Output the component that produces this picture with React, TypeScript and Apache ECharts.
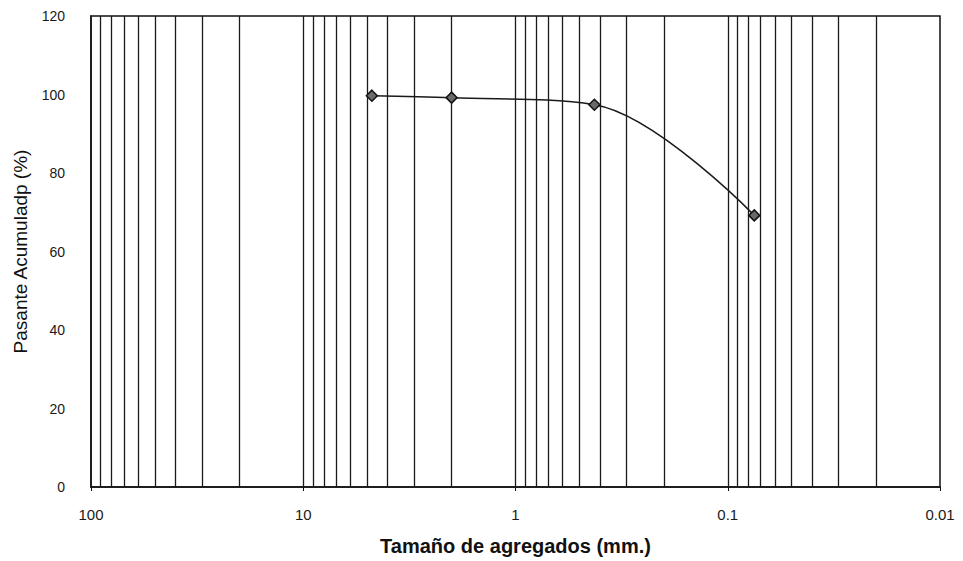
import React, { useEffect, useRef } from "react";
import * as echarts from "echarts";

// Sieve sizes (mm) and cumulative passing (%)
const sizes = [4.75, 2.0, 0.425, 0.075];
const passing = [99.7, 99.2, 97.4, 69.2];

// Y tick settings
const yMin = 0;
const yMax = 120;
const yStep = 20;

// X axis extent (log)
const xMin = 0.01;
const xMax = 100;

// Vertical log grid lines (minor + inner majors)
const gridValues = [
  90, 80, 70, 60, 50, 40, 30, 20,
  10,
  9, 8, 7, 6, 5, 4, 3, 2,
  1,
  0.9, 0.8, 0.7, 0.6, 0.5, 0.4, 0.3, 0.2,
  0.1,
  0.09, 0.08, 0.07, 0.06, 0.05, 0.04, 0.03, 0.02,
];

const FONT = "'Liberation Sans', Arial, sans-serif";

export default function App() {
  const ref = useRef<HTMLDivElement>(null);

  useEffect(() => {
    if (!ref.current) return;
    const chart = echarts.init(ref.current, null, { renderer: "svg" });
    const data = sizes.map((s, i) => [s, passing[i]]);
    chart.setOption({
      animation: false,
      backgroundColor: "#ffffff",
      grid: {
        left: 91,
        right: 23,
        top: 16,
        bottom: 70,
        show: true,
        borderColor: "#111",
        borderWidth: 1.5,
        backgroundColor: "transparent",
      },
      xAxis: {
        type: "log",
        logBase: 10,
        min: xMin,
        max: xMax,
        inverse: true,
        name: "Tamaño de agregados (mm.)",
        nameLocation: "middle",
        nameGap: 49,
        nameTextStyle: {
          fontFamily: FONT,
          fontSize: 20,
          fontWeight: "bold",
          color: "#111",
        },
        axisLine: { show: true, onZero: false, lineStyle: { color: "#111", width: 1.5 } },
        axisTick: { show: true, inside: false, length: 4, lineStyle: { color: "#111" } },
        axisLabel: {
          fontFamily: FONT,
          fontSize: 15,
          color: "#1a1a1a",
          margin: 20,
          formatter: (v: number) => String(v),
        },
        splitLine: { show: false },
        minorTick: { show: false },
      },
      yAxis: {
        type: "value",
        min: yMin,
        max: yMax,
        interval: yStep,
        name: "Pasante Acumuladp (%)",
        nameLocation: "middle",
        nameGap: 61,
        nameTextStyle: {
          fontFamily: FONT,
          fontSize: 19,
          color: "#111",
        },
        axisLine: { show: true, lineStyle: { color: "#111", width: 1.5 } },
        axisTick: { show: false },
        axisLabel: {
          fontFamily: FONT,
          fontSize: 14,
          color: "#1a1a1a",
          margin: 26,
        },
        splitLine: { show: false },
      },
      series: [
        {
          type: "line",
          data,
          smooth: 0.35,
          symbol: "diamond",
          symbolSize: 11,
          lineStyle: { color: "#1a1a1a", width: 1.5 },
          itemStyle: { color: "#6a6a6a", borderColor: "#111", borderWidth: 1.5 },
          z: 5,
          markLine: {
            silent: true,
            symbol: ["none", "none"],
            label: { show: false },
            lineStyle: { color: "#1a1a1a", width: 1.3, type: "solid" },
            emphasis: { disabled: true },
            data: gridValues.map((v) => ({ xAxis: v })),
            z: 2,
          },
        },
      ],
    });
    return () => chart.dispose();
  }, []);

  return (
    <div
      ref={ref}
      style={{ position: "absolute", left: 0, top: 0, width: 963, height: 561 }}
    />
  );
}
